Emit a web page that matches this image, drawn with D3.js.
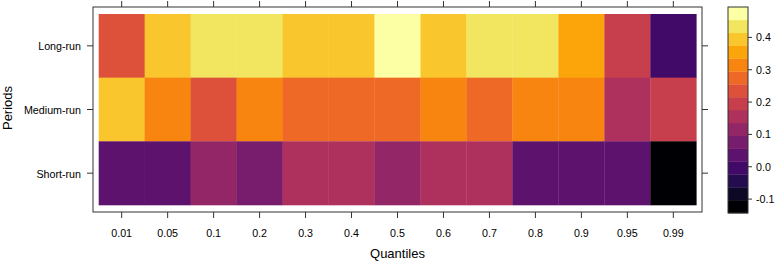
<!DOCTYPE html>
<html>
<head>
<meta charset="utf-8">
<script src="https://cdn.jsdelivr.net/npm/d3@7"></script>
<style>
  body { margin: 0; background: #fff; }
  svg { font-family: "Liberation Sans", Arial, sans-serif; }
  .tick-label { font-size: 10.7px; fill: #000; }
  .axis-title { font-size: 13px; fill: #000; }
</style>
</head>
<body>
<div id="chart"></div>
<script>
// quantile levelplot: periods x quantiles, inferno palette with 16 bins
const quantiles = ["0.01", "0.05", "0.1", "0.2", "0.3", "0.4", "0.5", "0.6", "0.7", "0.8", "0.9", "0.95", "0.99"];
const periods = ["Long-run", "Medium-run", "Short-run"];

const longRun   = [0.24, 0.39, 0.44, 0.43, 0.40, 0.39, 0.494, 0.39, 0.43, 0.44, 0.35, 0.20, -0.01];
const mediumRun = [0.39, 0.31, 0.23, 0.32, 0.27, 0.28, 0.28, 0.32, 0.27, 0.31, 0.32, 0.15, 0.19];
const shortRun  = [0.04, 0.04, 0.11, 0.08, 0.16, 0.15, 0.12, 0.15, 0.16, 0.04, 0.04, 0.03, -0.143];

const colorTicks = [-0.1, 0.0, 0.1, 0.2, 0.3, 0.4];
const nBins = 16;

const W = 775, H = 262;
const panel = { left: 93, right: 702, top: 7, bottom: 212 };
const pad = { x: 5.7, y: 7 };   // gap between panel box and the cells
const key = { left: 728, right: 748, top: 7, bottom: 213 };

const seriesByPeriod = { "Long-run": longRun, "Medium-run": mediumRun, "Short-run": shortRun };
const cells = [];
periods.forEach((p) => {
  seriesByPeriod[p].forEach((v, i) => cells.push({ period: p, q: quantiles[i], value: v }));
});

const svg = d3.select("#chart").append("svg").attr("width", W).attr("height", H);

const x = d3.scaleBand().domain(quantiles)
  .range([panel.left + pad.x, panel.right - pad.x]).padding(0);
const y = d3.scaleBand().domain(periods)
  .range([panel.top + pad.y, panel.bottom - pad.y]).padding(0);

// equal breaks over the data range, like lattice
const [zmin, zmax] = d3.extent(cells, (d) => d.value);
const breaks = d3.range(nBins + 1).map((i) => zmin + (zmax - zmin) * i / nBins);
const palette = d3.range(nBins).map((i) => d3.interpolateInferno(i / (nBins - 1)));
const color = d3.scaleThreshold().domain(breaks.slice(1, -1)).range(palette);

// cells
svg.append("g").selectAll("rect").data(cells).join("rect")
  .attr("x", (d) => x(d.q))
  .attr("y", (d) => y(d.period))
  .attr("width", x.bandwidth() + 0.3)
  .attr("height", y.bandwidth() + 0.3)
  .attr("fill", (d) => color(d.value));

// panel box
svg.append("rect")
  .attr("x", panel.left).attr("y", panel.top)
  .attr("width", panel.right - panel.left).attr("height", panel.bottom - panel.top)
  .attr("fill", "none").attr("stroke", "#333").attr("stroke-width", 1);

const tickLen = 6;
const axisG = svg.append("g").attr("stroke", "#333").attr("stroke-width", 1);
quantiles.forEach((q) => {
  const cx = x(q) + x.bandwidth() / 2;
  axisG.append("line").attr("x1", cx).attr("x2", cx).attr("y1", panel.top).attr("y2", panel.top - tickLen);
  axisG.append("line").attr("x1", cx).attr("x2", cx).attr("y1", panel.bottom).attr("y2", panel.bottom + tickLen);
});
periods.forEach((p) => {
  const cy = y(p) + y.bandwidth() / 2;
  axisG.append("line").attr("y1", cy).attr("y2", cy).attr("x1", panel.left).attr("x2", panel.left - tickLen);
  axisG.append("line").attr("y1", cy).attr("y2", cy).attr("x1", panel.right).attr("x2", panel.right + tickLen);
});

svg.append("g").selectAll("text").data(quantiles).join("text")
  .attr("class", "tick-label")
  .attr("x", (d) => x(d) + x.bandwidth() / 2)
  .attr("y", 237)
  .attr("text-anchor", "middle")
  .text((d) => d);

svg.append("g").selectAll("text").data(periods).join("text")
  .attr("class", "tick-label")
  .attr("x", 81)
  .attr("y", (d) => y(d) + y.bandwidth() / 2 + 4.5)
  .attr("text-anchor", "end")
  .text((d) => d);

svg.append("text").attr("class", "axis-title")
  .attr("x", (panel.left + panel.right) / 2).attr("y", 258)
  .attr("text-anchor", "middle").text("Quantiles");

svg.append("text").attr("class", "axis-title")
  .attr("transform", `translate(12,108) rotate(-90)`)
  .attr("text-anchor", "middle").text("Periods");

// colour key
const k = d3.scaleLinear().domain([zmin, zmax]).range([key.bottom, key.top]);
svg.append("g").selectAll("rect").data(d3.range(nBins)).join("rect")
  .attr("x", key.left)
  .attr("width", key.right - key.left)
  .attr("y", (i) => k(breaks[i + 1]))
  .attr("height", (i) => k(breaks[i]) - k(breaks[i + 1]) + 0.3)
  .attr("fill", (i) => palette[i]);
svg.append("rect")
  .attr("x", key.left).attr("y", key.top)
  .attr("width", key.right - key.left).attr("height", key.bottom - key.top)
  .attr("fill", "none").attr("stroke", "#333");

const keyAxis = svg.append("g");
colorTicks.forEach((t) => {
  keyAxis.append("line").attr("stroke", "#333")
    .attr("x1", key.right).attr("x2", key.right + 4)
    .attr("y1", k(t)).attr("y2", k(t));
  keyAxis.append("text").attr("class", "tick-label")
    .attr("x", key.right + 8).attr("y", k(t) + 3.8)
    .text(d3.format(".1f")(t).replace("−", "-"));
});
</script>
</body>
</html>
